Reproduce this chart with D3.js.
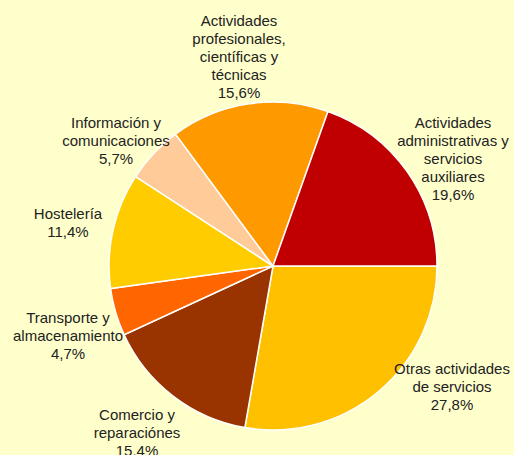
<!DOCTYPE html>
<html><head><meta charset="utf-8">
<script src="https://cdn.jsdelivr.net/npm/d3@7"></script>
<style>html,body{margin:0;padding:0;background:#FFFFCC;}svg{display:block;}</style>
</head><body>
<script>
const categories = ["Otras actividades de servicios","Comercio y reparaciónes","Transporte y almacenamiento","Hostelería","Información y comunicaciones","Actividades profesionales, científicas y técnicas","Actividades administrativas y servicios auxiliares"];
const values = [27.8, 15.4, 4.7, 11.4, 5.7, 15.6, 19.6];
const colors = ["#FFC000","#993300","#FF6600","#FFCC00","#FFCC99","#FF9900","#C00000"];
const labelLines = [
  ["Otras actividades","de servicios"],
  ["Comercio y","reparaciónes"],
  ["Transporte y","almacenamiento"],
  ["Hostelería"],
  ["Información y","comunicaciones"],
  ["Actividades","profesionales,","científicas y","técnicas"],
  ["Actividades","administrativas y","servicios","auxiliares"]
];
const labelPos = [[452,369],[137,415],[68,318],[68,214],[116,123],[239,21],[453,123]];

const W=514,H=455,cx=273,cy=266,r=164;
const svg=d3.select("body").append("svg").attr("width",W).attr("height",H);
svg.append("rect").attr("width",W).attr("height",H).attr("fill","#FFFFCC");
const total=d3.sum(values);
const pie=d3.pie().sort(null).value(d=>d).startAngle(Math.PI/2).endAngle(Math.PI/2+2*Math.PI);
const arc=d3.arc().innerRadius(0).outerRadius(r);
const g=svg.append("g").attr("transform",`translate(${cx},${cy})`);
g.selectAll("path").data(pie(values)).join("path")
  .attr("d",arc).attr("fill",(d,i)=>colors[i]).attr("stroke","#fff").attr("stroke-width",1.5);
const fmt=v=>v.toFixed(1).replace(".",",")+"%";
categories.forEach((c,i)=>{
  const lines=labelLines[i].concat([fmt(values[i])]);
  const t=svg.append("text").attr("x",labelPos[i][0]).attr("y",labelPos[i][1])
    .attr("text-anchor","middle").attr("font-family","Liberation Sans, Arial, sans-serif")
    .attr("font-size",15).attr("fill","#222");
  lines.forEach((l,j)=>t.append("tspan").attr("x",labelPos[i][0]).attr("dy",j===0?"0.35em":18).text(l));
});
</script>
</body></html>
